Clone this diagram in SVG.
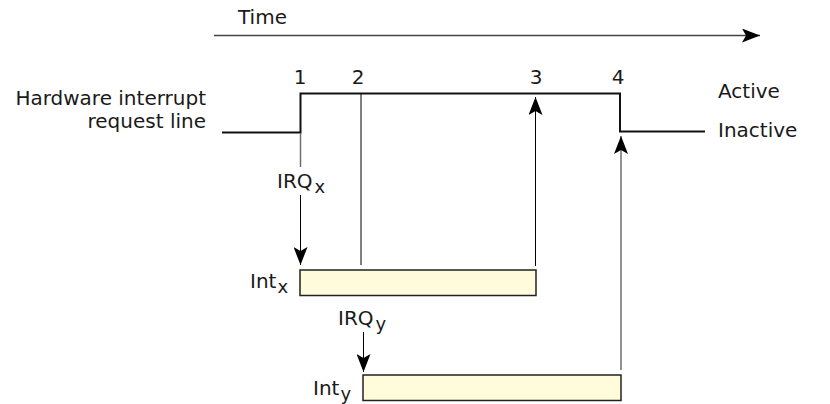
<svg xmlns="http://www.w3.org/2000/svg" width="830" height="404" viewBox="0 0 830 404">
<defs>
<marker id="ah" viewBox="0 0 18 14" refX="18" refY="7" markerWidth="18" markerHeight="14" markerUnits="userSpaceOnUse" orient="auto">
<path d="M0,0 L18,7 L0,14 L4,7 z" fill="#000"/>
</marker>
<style>
text{font-family:"DejaVu Sans",Verdana,sans-serif;font-size:20px;fill:#1a1a1a}
.sub{font-size:18px}
.ln{stroke:#000;stroke-width:1;fill:none}
.gr{stroke:#6e6e6e;stroke-width:1.5;fill:none}
.sig{stroke:#111;stroke-width:2;fill:none}
.box{fill:#fffbdb;stroke:#222;stroke-width:1.5}
</style>
</defs>
<g id="time">
<line x1="214" y1="35.5" x2="760" y2="35.5" stroke="#444" stroke-width="1.5" marker-end="url(#ah)"/>
<text x="238" y="24">Time</text>
</g>
<g id="signal">
<polyline class="sig" points="222,132.5 300.5,132.5 300.5,93.5 620,93.5 620,131.5 705,131.5"/>
<text x="206" y="105" text-anchor="end">Hardware interrupt</text>
<text x="206" y="128" text-anchor="end">request line</text>
<text x="718" y="98">Active</text>
<text x="718" y="137">Inactive</text>
<text x="300" y="84" text-anchor="middle">1</text>
<text x="358" y="84" text-anchor="middle">2</text>
<text x="536" y="84" text-anchor="middle">3</text>
<text x="618" y="84" text-anchor="middle">4</text>
</g>
<g id="intx">
<rect class="box" x="300" y="270" width="236" height="25.5"/>
<text x="250" y="288">Int<tspan class="sub" dx="1" dy="5">x</tspan></text>
</g>
<g id="inty">
<rect class="box" x="363" y="375" width="258" height="25.5"/>
<text x="313" y="395">Int<tspan class="sub" dx="1" dy="5">y</tspan></text>
</g>
<g id="connectors">
<line class="gr" x1="300.5" y1="133" x2="300.5" y2="167"/>
<text x="277" y="188">IRQ<tspan class="sub" dx="2" dy="5">x</tspan></text>
<line class="ln" x1="300.5" y1="195" x2="300.5" y2="265" marker-end="url(#ah)"/>
<line class="ln" x1="361" y1="94" x2="361" y2="265"/>
<line class="ln" x1="535.5" y1="266" x2="535.5" y2="97" marker-end="url(#ah)"/>
<text x="338" y="325">IRQ<tspan class="sub" dx="2" dy="5">y</tspan></text>
<line class="ln" x1="363.5" y1="332" x2="363.5" y2="372" marker-end="url(#ah)"/>
<line class="gr" x1="621" y1="370" x2="621" y2="136" marker-end="url(#ah)"/>
</g>
</svg>
